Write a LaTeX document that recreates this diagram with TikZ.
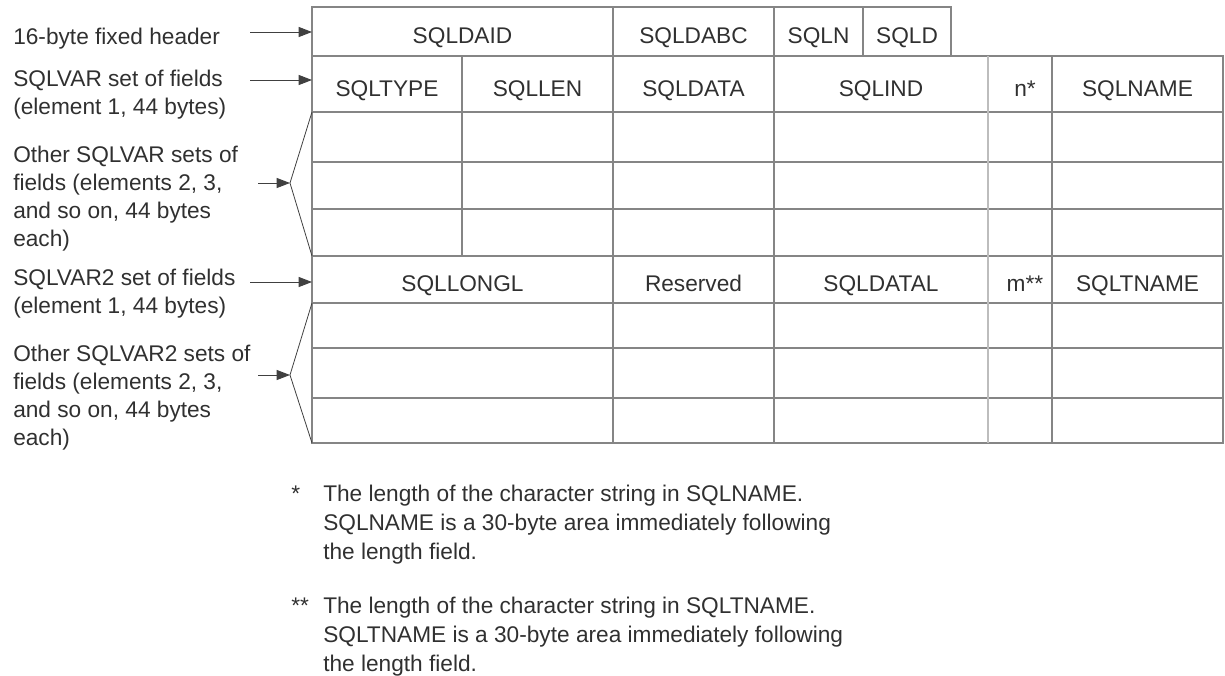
\documentclass[tikz,border=0pt]{standalone}
\usepackage{fontspec}
\setmainfont{Liberation Sans}
\usetikzlibrary{arrows.meta}
\definecolor{gridc}{HTML}{858585}
\definecolor{gridl}{HTML}{BDBDBD}
\definecolor{txt}{HTML}{303030}
\definecolor{arr}{HTML}{404040}
\begin{document}
\begin{tikzpicture}[x=0.75pt,y=-0.75pt,
  cell/.style={draw=gridc, line width=0.9pt, inner sep=0pt, outer sep=0pt, text=txt, font=\fontsize{17}{20}\selectfont, text height=18pt, text depth=0pt},
  sz/.style 2 args={minimum width=#1*0.75pt, minimum height=#2*0.75pt},
  lbl/.style={anchor=north west, align=left, inner sep=0pt, text=txt, font=\fontsize{17}{21}\selectfont},
  fnote/.style={anchor=north west, align=left, inner sep=0pt, text=txt, font=\fontsize{17}{21.75}\selectfont},
  ptr/.style={draw=arr, line width=0.75pt, -{Triangle[length=10pt,width=7.5pt]}},
  brk/.style={draw=arr, line width=0.6pt},
  lightcol/.style={draw=gridl, line width=1.5pt}
]
\useasboundingbox (0,0) rectangle (1225,675);

% header row
\node[cell, sz={301}{49}] (sqldaid) at (462.5,31.5) {SQLDAID};
\node[cell, sz={161}{49}] (sqldabc) at (693.5,31.5) {SQLDABC};
\node[cell, sz={89}{49}]  (sqln)    at (818.5,31.5) {SQLN};
\node[cell, sz={88}{49}]  (sqld)    at (907,31.5)   {SQLD};

% SQLVAR row
\node[cell, sz={150}{56}] (sqltype) at (387,84)    {SQLTYPE};
\node[cell, sz={151}{56}] (sqllen)  at (537.5,84)  {SQLLEN};
\node[cell, sz={161}{56}] (sqldata) at (693.5,84)  {SQLDATA};
\node[cell, sz={214}{56}] (sqlind)  at (881,84)    {SQLIND};
\node[cell, sz={64}{56}]  (nstar)   at (1020,84)   {\hspace*{7.5pt}n*};
\node[cell, sz={171}{56}] (sqlname) at (1137.5,84) {SQLNAME};

% other SQLVAR rows
\foreach \r/\cy/\h in {a/137/50, b/185.5/47, c/232.5/47}
  \foreach \c/\cx/\w in {1/387/150, 2/537.5/151, 3/693.5/161, 4/881/214, 5/1020/64, 6/1137.5/171}
    \node[cell, sz={\w}{\h}] (v\r\c) at (\cx,\cy) {};

% SQLVAR2 row
\node[cell, sz={301}{47}] (sqllongl) at (462.5,279.5)  {SQLLONGL};
\node[cell, sz={161}{47}] (reserved) at (693.5,279.5)  {Reserved};
\node[cell, sz={214}{47}] (sqldatal) at (881,279.5)    {SQLDATAL};
\node[cell, sz={64}{47}]  (mstar)    at (1020,279.5)   {\hspace*{7.5pt}m**};
\node[cell, sz={171}{47}] (sqltname) at (1137.5,279.5) {SQLTNAME};

% other SQLVAR2 rows
\foreach \r/\cy/\h in {a/325.5/45, b/373/50, c/420.5/45}
  \foreach \c/\cx/\w in {1/462.5/301, 2/693.5/161, 3/881/214, 4/1020/64, 5/1137.5/171}
    \node[cell, sz={\w}{\h}] (w\r\c) at (\cx,\cy) {};

\draw[lightcol] (nstar.north west) -- (wc4.south west);

% left labels
\node[lbl] (l1) at (13,24.4) {\strut 16-byte fixed header};
\node[lbl] (l2) at (13,66.4) {\strut SQLVAR set of fields\\(element 1, 44 bytes)};
\node[lbl] (l3) at (13,142.4) {\strut Other SQLVAR sets of\\fields (elements 2, 3,\\and so on, 44 bytes\\each)};
\node[lbl] (l4) at (13,265.4) {\strut SQLVAR2 set of fields\\(element 1, 44 bytes)};
\node[lbl] (l5) at (13,341.4) {\strut Other SQLVAR2 sets of\\fields (elements 2, 3,\\and so on, 44 bytes\\each)};

% pointers
\coordinate (a1) at (250,32);
\coordinate (a2) at (250,80);
\coordinate (a3) at (258,183);
\coordinate (a4) at (250,282);
\coordinate (a5) at (258,375);
\coordinate (b1) at (290,183);
\coordinate (b2) at (290,375);

\draw[ptr] (a1) -- (a1 -| sqldaid.west);
\draw[ptr] (a2) -- (a2 -| sqltype.west);
\draw[ptr] (a3) -- (b1);
\draw[brk] (va1.north west) -- (b1) -- (vc1.south west);
\draw[ptr] (a4) -- (a4 -| sqllongl.west);
\draw[ptr] (a5) -- (b2);
\draw[brk] (wa1.north west) -- (b2) -- (wc1.south west);

% footnotes
\node[fnote] (m1) at (291,480.7) {\strut *};
\node[fnote] (f1) at (323,480.7) {\strut The length of the character string in SQLNAME.\\SQLNAME is a 30-byte area immediately following\\the length field.};
\node[fnote] (m2) at (291,592.7) {\strut **};
\node[fnote] (f2) at (323,592.7) {\strut The length of the character string in SQLTNAME.\\SQLTNAME is a 30-byte area immediately following\\the length field.};
\end{tikzpicture}
\end{document}
